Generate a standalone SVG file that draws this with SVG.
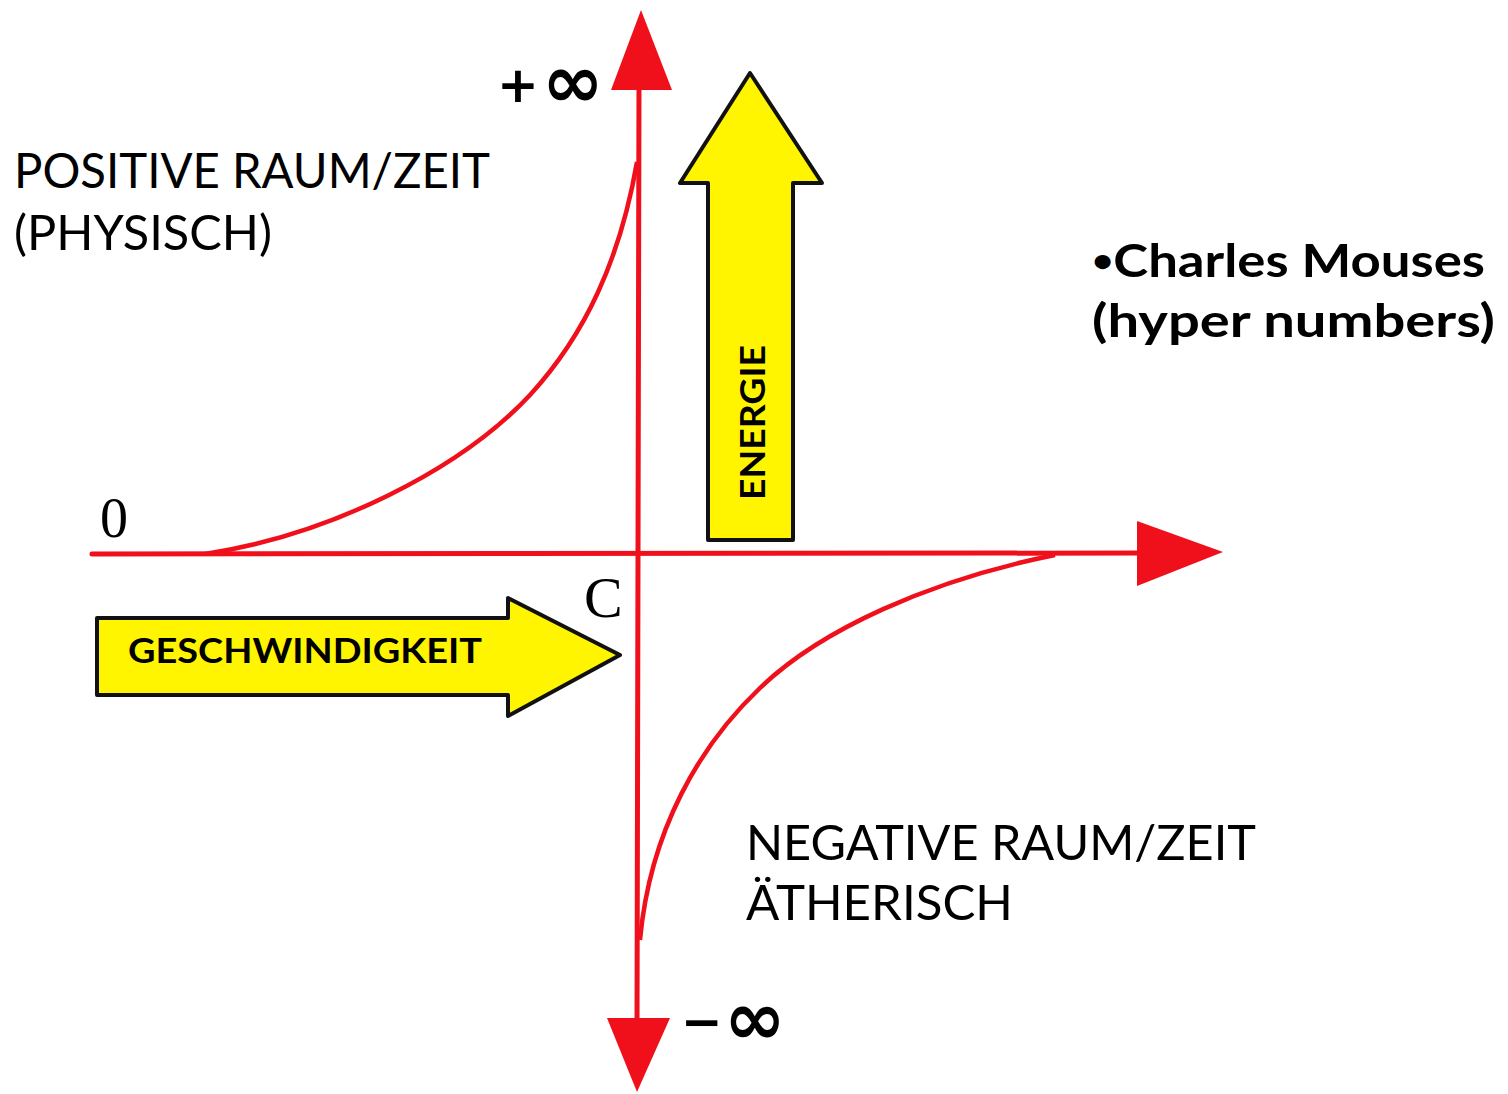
<svg xmlns="http://www.w3.org/2000/svg" width="1508" height="1094" viewBox="0 0 1508 1094">
<style>
.ax{stroke:#f0101c;stroke-width:5;fill:none;stroke-linecap:round}
.cv{stroke:#f0101c;stroke-width:4.5;fill:none}
.head{fill:#f0101c}
.ya{fill:#fff500;stroke:#111;stroke-width:4;stroke-linejoin:round}
.lbl{font-family:Lato,"Open Sans",sans-serif;fill:#000}
.ser{font-family:"Liberation Serif",serif;fill:#000}
.inf{font-family:"DejaVu Sans",sans-serif;font-weight:bold;fill:#000}
.big{font-size:48px}
.bold{font-weight:bold}
</style>
<rect width="1508" height="1094" fill="#fff"/>
<g id="connectors">
<line class="ax" x1="92" y1="554" x2="1150" y2="553"/>
<line class="ax" x1="639" y1="80" x2="637" y2="1030"/>
<path class="cv" d="M205,554 C330,535 460,470 530,395 C585,335 620,260 637,162"/>
<path class="cv" d="M1055,555 C930,580 820,630 760,688 C700,745 650,830 640,940"/>
<polygon class="head" points="641,10 611,90 672,90"/>
<polygon class="head" points="607,1018 670,1018 637,1092"/>
<polygon class="head" points="1137,521 1223,552 1137,586"/>
</g>
<g id="energie">
<polygon class="ya" points="708,540 793,540 793,183 822,183 750,73 680,183 708,183"/>
<text class="lbl bold" font-size="34" textLength="155" lengthAdjust="spacingAndGlyphs" transform="translate(765,500) rotate(-90)">ENERGIE</text>
</g>
<g id="geschwindigkeit">
<polygon class="ya" points="97,618 508,618 508,598 620,655 508,716 508,695 97,695"/>
<text class="lbl bold" x="128" y="663" font-size="34" textLength="354" lengthAdjust="spacingAndGlyphs">GESCHWINDIGKEIT</text>
</g>
<g id="labels">
<text class="lbl big" x="14" y="188" textLength="476" lengthAdjust="spacingAndGlyphs">POSITIVE RAUM/ZEIT</text>
<text class="lbl big" x="14" y="250" textLength="258" lengthAdjust="spacingAndGlyphs">(PHYSISCH)</text>
<text class="lbl bold" x="1092" y="277" font-size="46" textLength="393" lengthAdjust="spacingAndGlyphs"><tspan font-size="32" dy="-5">•</tspan><tspan dy="5">Charles Mouses</tspan></text>
<text class="lbl bold" x="1092" y="337" font-size="46" textLength="403" lengthAdjust="spacingAndGlyphs">(hyper numbers)</text>
<text class="lbl big" x="746" y="860" textLength="510" lengthAdjust="spacingAndGlyphs">NEGATIVE RAUM/ZEIT</text>
<text class="lbl big" x="746" y="920" textLength="267" lengthAdjust="spacingAndGlyphs">ÄTHERISCH</text>
<text class="inf" x="497" y="102" font-size="50">+<tspan x="542" y="107" font-size="74">∞</tspan></text>
<text class="inf" x="681" y="1039" font-size="50">−<tspan x="724" y="1044" font-size="74">∞</tspan></text>
<text class="ser" x="100" y="537" font-size="56">0</text>
<text class="ser" x="584" y="617" font-size="58">C</text>
</g>
</svg>
